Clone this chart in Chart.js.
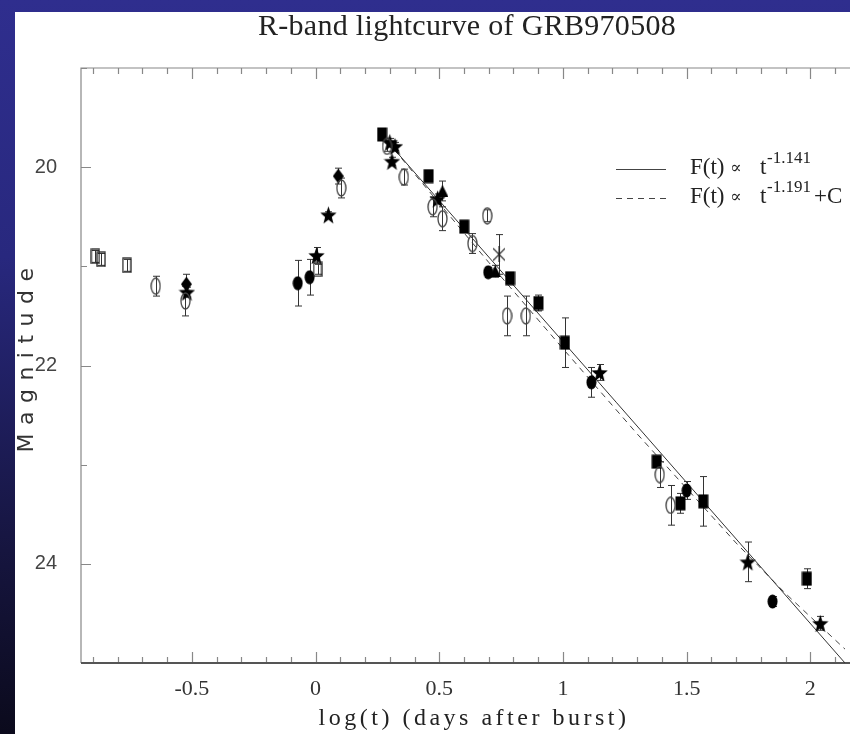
<!DOCTYPE html>
<html>
<head>
<meta charset="utf-8">
<script src="https://cdn.jsdelivr.net/npm/chart.js@4.4.0/dist/chart.umd.min.js"></script>
<style>
  html, body { margin: 0; padding: 0; }
  body {
    width: 850px; height: 734px; overflow: hidden; position: relative;
    background: linear-gradient(180deg, #2f2e8e 0%, #28287e 35%, #16153f 75%, #0b0a1c 100%);
  }
  #panel { position: absolute; left: 15px; top: 12px; width: 835px; height: 722px; background: #fff; }
  canvas { display: block; }
</style>
</head>
<body>
<div id="panel"><canvas id="lightcurve" width="835" height="722"></canvas></div>
<script>
// log(t) in days, R magnitude and error, per marker type
const openSquareT = [-0.890, -0.867, -0.763, 0.008];
const openSquareMag = [20.90, 20.93, 20.99, 21.03];
const openSquareErr = [0.06, 0.06, 0.06, 0.05];

const openCircleT = [-0.646, -0.526, 0.104, 0.289, 0.357, 0.473, 0.513, 0.634, 0.694, 0.774, 0.850, 1.391, 1.435];
const openCircleMag = [21.20, 21.35, 20.21, 19.79, 20.10, 20.40, 20.52, 20.77, 20.49, 21.50, 21.50, 23.10, 23.41];
const openCircleErr = [0.10, 0.15, 0.10, 0.05, 0.08, 0.10, 0.12, 0.10, 0.06, 0.20, 0.20, 0.13, 0.20];

const filledSquareT = [0.269, 0.457, 0.601, 0.786, 0.901, 1.008, 1.379, 1.475, 1.567, 1.986];
const filledSquareMag = [19.67, 20.09, 20.60, 21.12, 21.37, 21.77, 22.97, 23.39, 23.37, 24.15];
const filledSquareErr = [0.04, 0.05, 0.04, 0.05, 0.08, 0.25, 0.05, 0.10, 0.25, 0.10];

const filledCircleT = [-0.072, -0.024, 0.698, 1.115, 1.500, 1.847];
const filledCircleMag = [21.17, 21.11, 21.06, 22.17, 23.26, 24.38];
const filledCircleErr = [0.23, 0.18, 0.05, 0.15, 0.09, 0.05];

const starT = [-0.520, 0.004, 0.052, 0.300, 0.321, 0.309, 0.493, 1.148, 1.747, 2.040];
const starMag = [21.26, 20.89, 20.48, 19.75, 19.79, 19.94, 20.32, 22.07, 23.98, 24.60];
const starErr = [0.05, 0.08, 0.03, 0.04, 0.04, 0.04, 0.05, 0.08, 0.20, 0.07];

const diamondT = [-0.522, 0.092];
const diamondMag = [21.18, 20.09];
const diamondErr = [0.10, 0.08];

const triangleT = [0.513, 0.726];
const triangleMag = [20.24, 21.05];
const triangleErr = [0.10, 0.06];

const crossT = [0.742];
const crossMag = [20.88];
const crossErr = [0.20];

// fitted decays
const powerFitT = [0.29, 2.14];
const powerFitMag = [19.74, 25.00];
const hostFitT = [0.29, 0.70, 1.00, 1.30, 1.50, 1.70, 1.90, 2.14];
const hostFitMag = [19.74, 20.96, 21.83, 22.69, 23.24, 23.79, 24.30, 24.86];

const xMin = -0.948, xMax = 2.14;
const yMin = 19, yMax = 25;

const toPoints = (xs, ys) => xs.map((v, i) => ({ x: v, y: ys[i] }));
const isHalf = v => Math.abs(v * 2 - Math.round(v * 2)) < 1e-6;

// marker pictures
function marker(w, h, draw) {
    const c = document.createElement('canvas');
    c.width = w;
    c.height = h;
    const g = c.getContext('2d');
    g.strokeStyle = '#222';
    g.fillStyle = '#000';
    g.lineWidth = 1.3;
    draw(g, w, h);
    return c;
}

const openSquare = marker(10, 16, (g, w, h) => g.strokeRect(1, 1, w - 2, h - 2));
const openCircle = marker(11, 18, (g, w, h) => {
    g.strokeStyle = '#444';
    g.beginPath();
    g.ellipse(w / 2, h / 2, w / 2 - 1, h / 2 - 1, 0, 0, Math.PI * 2);
    g.stroke();
});
const filledSquare = marker(11, 15, (g, w, h) => g.fillRect(0.5, 0.5, w - 1, h - 1));
const filledCircle = marker(11, 15, (g, w, h) => {
    g.beginPath();
    g.ellipse(w / 2, h / 2, w / 2 - 0.5, h / 2 - 0.5, 0, 0, Math.PI * 2);
    g.fill();
});
const star = marker(17, 19, (g, w, h) => {
    g.beginPath();
    for (let k = 0; k < 10; k++) {
        const r = k % 2 === 0 ? 9.5 : 3.9;
        const a = -Math.PI / 2 + k * Math.PI / 5;
        g.lineTo(w / 2 + r * 0.9 * Math.cos(a), h / 2 + 1 + r * Math.sin(a));
    }
    g.closePath();
    g.fill();
});
const diamond = marker(11, 15, (g, w, h) => {
    g.beginPath();
    g.moveTo(w / 2, 0); g.lineTo(w, h / 2); g.lineTo(w / 2, h); g.lineTo(0, h / 2);
    g.closePath();
    g.fill();
});
const triangle = marker(12, 12, (g, w, h) => {
    g.beginPath();
    g.moveTo(w / 2, 0); g.lineTo(w, h); g.lineTo(0, h);
    g.closePath();
    g.fill();
});
const cross = marker(12, 16, (g, w, h) => {
    g.lineWidth = 1.2;
    g.beginPath();
    g.moveTo(w / 2, 0); g.lineTo(w / 2, h);
    g.moveTo(0, 2); g.lineTo(w, h - 2);
    g.moveTo(w, 2); g.lineTo(0, h - 2);
    g.stroke();
});

function pointSet(xs, ys, errs, style) {
    return {
        data: toPoints(xs, ys),
        err: errs,
        pointStyle: style,
        pointRadius: 4,
        showLine: false
    };
}

// error bars under the markers
const errorBars = {
    id: 'errorBars',
    beforeDatasetsDraw(chart) {
        const { ctx, scales: { x, y } } = chart;
        ctx.save();
        ctx.strokeStyle = '#333';
        ctx.lineWidth = 1;
        chart.data.datasets.forEach(ds => {
            if (!ds.err) return;
            ds.data.forEach((p, i) => {
                const px = Math.round(x.getPixelForValue(p.x)) + 0.5;
                const top = y.getPixelForValue(p.y - ds.err[i]);
                const bot = y.getPixelForValue(p.y + ds.err[i]);
                ctx.beginPath();
                ctx.moveTo(px, top); ctx.lineTo(px, bot);
                ctx.moveTo(px - 3.5, top); ctx.lineTo(px + 3.5, top);
                ctx.moveTo(px - 3.5, bot); ctx.lineTo(px + 3.5, bot);
                ctx.stroke();
            });
        });
        ctx.restore();
    }
};

// box around the plot with inward ticks
const frame = {
    id: 'frame',
    beforeDatasetsDraw(chart) {
        const { ctx, chartArea: a, scales: { x, y } } = chart;
        ctx.save();
        ctx.strokeStyle = '#888';
        ctx.lineWidth = 1.2;
        ctx.beginPath();
        ctx.moveTo(a.right + 5, a.top); ctx.lineTo(a.left, a.top); ctx.lineTo(a.left, a.bottom);
        x.ticks.forEach(t => {
            const px = Math.round(x.getPixelForValue(t.value)) + 0.5;
            const len = isHalf(t.value) ? 11 : 6;
            ctx.moveTo(px, a.bottom); ctx.lineTo(px, a.bottom - len);
            ctx.moveTo(px, a.top); ctx.lineTo(px, a.top + len);
        });
        y.ticks.forEach(t => {
            const py = Math.round(y.getPixelForValue(t.value)) + 0.5;
            const len = t.value % 2 === 0 ? 10 : 6;
            ctx.moveTo(a.left, py); ctx.lineTo(a.left + len, py);
        });
        ctx.stroke();
        ctx.strokeStyle = '#555';
        ctx.lineWidth = 2;
        ctx.beginPath();
        ctx.moveTo(a.left, a.bottom); ctx.lineTo(a.right + 5, a.bottom);
        ctx.stroke();
        ctx.restore();
    }
};

// title, axis titles and the fit key
const labels = {
    id: 'labels',
    afterDraw(chart) {
        const { ctx, chartArea: a } = chart;
        ctx.save();
        ctx.fillStyle = '#222';
        ctx.textBaseline = 'alphabetic';

        ctx.font = '30px "Liberation Serif"';
        ctx.letterSpacing = '0.3px';
        ctx.textAlign = 'center';
        ctx.fillText('R-band lightcurve of GRB970508', 452, a.top - 33);

        ctx.font = '24px "Liberation Serif"';
        ctx.letterSpacing = '3.5px';
        ctx.fillText('log(t) (days after burst)', 459, a.bottom + 62);

        ctx.save();
        ctx.translate(12, 348);
        ctx.rotate(-Math.PI / 2);
        ctx.font = '22px "DejaVu Sans"';
        ctx.letterSpacing = '8.5px';
        ctx.fillStyle = '#333';
        ctx.textBaseline = 'middle';
        ctx.fillText('Magnitude', 4, 0);
        ctx.restore();

        // key
        ctx.letterSpacing = '0px';
        ctx.strokeStyle = '#444';
        ctx.lineWidth = 1;
        ctx.beginPath();
        ctx.moveTo(601, 157.5); ctx.lineTo(651, 157.5);
        ctx.stroke();
        ctx.setLineDash([6, 5]);
        ctx.beginPath();
        ctx.moveTo(601, 186.5); ctx.lineTo(651, 186.5);
        ctx.stroke();
        ctx.setLineDash([]);

        ctx.textAlign = 'left';
        [[162, '-1.141', ''], [191, '-1.191', '+C']].forEach(([base, pow, tail]) => {
            ctx.font = '23px "Liberation Serif"';
            ctx.fillText('F(t)', 675, base);
            ctx.fillText('t', 745, base);
            ctx.font = '17px "DejaVu Serif"';
            ctx.fillText('\u221D', 715, base - 1);
            ctx.font = '17px "Liberation Serif"';
            ctx.fillText(pow, 752, base - 11);
            if (tail) {
                ctx.font = '23px "Liberation Serif"';
                ctx.fillText(tail, 799, base);
            }
        });
        ctx.restore();
    }
};

new Chart(document.querySelector('#lightcurve'), {
    type: 'scatter',
    data: {
        datasets: [
            pointSet(openSquareT, openSquareMag, openSquareErr, openSquare),
            pointSet(openCircleT, openCircleMag, openCircleErr, openCircle),
            pointSet(filledSquareT, filledSquareMag, filledSquareErr, filledSquare),
            pointSet(filledCircleT, filledCircleMag, filledCircleErr, filledCircle),
            pointSet(starT, starMag, starErr, star),
            pointSet(diamondT, diamondMag, diamondErr, diamond),
            pointSet(triangleT, triangleMag, triangleErr, triangle),
            pointSet(crossT, crossMag, crossErr, cross),
            {
                data: toPoints(powerFitT, powerFitMag),
                showLine: true,
                pointRadius: 0,
                borderColor: '#333',
                borderWidth: 1
            },
            {
                data: toPoints(hostFitT, hostFitMag),
                showLine: true,
                pointRadius: 0,
                borderColor: '#444',
                borderWidth: 1,
                borderDash: [6, 5]
            }
        ]
    },
    options: {
        responsive: false,
        animation: false,
        events: [],
        layout: { padding: { top: 56, right: 0, bottom: 0, left: 0 } },
        plugins: {
            legend: { display: false },
            title: { display: false },
            tooltip: { enabled: false }
        },
        scales: {
            x: {
                type: 'linear',
                min: xMin,
                max: xMax,
                grid: { display: false, drawTicks: false },
                border: { display: false },
                ticks: {
                    stepSize: 0.1,
                    autoSkip: false,
                    includeBounds: false,
                    maxRotation: 0,
                    padding: 13,
                    color: '#333',
                    font: { family: 'Liberation Serif', size: 22 },
                    callback: v => isHalf(v) ? String(Math.round(v * 2) / 2) : ''
                },
                afterFit: s => { s.height = 71; }
            },
            y: {
                type: 'linear',
                reverse: true,
                min: yMin,
                max: yMax,
                grid: { display: false, drawTicks: false },
                border: { display: false },
                ticks: {
                    stepSize: 1,
                    padding: 24,
                    color: '#444',
                    font: { family: 'Liberation Sans', size: 20 },
                    callback: v => (v % 2 === 0 && v > yMin && v < yMax) ? String(v) : ''
                },
                afterFit: s => { s.width = 66; }
            }
        }
    },
    plugins: [frame, errorBars, labels]
});
</script>
</body>
</html>
